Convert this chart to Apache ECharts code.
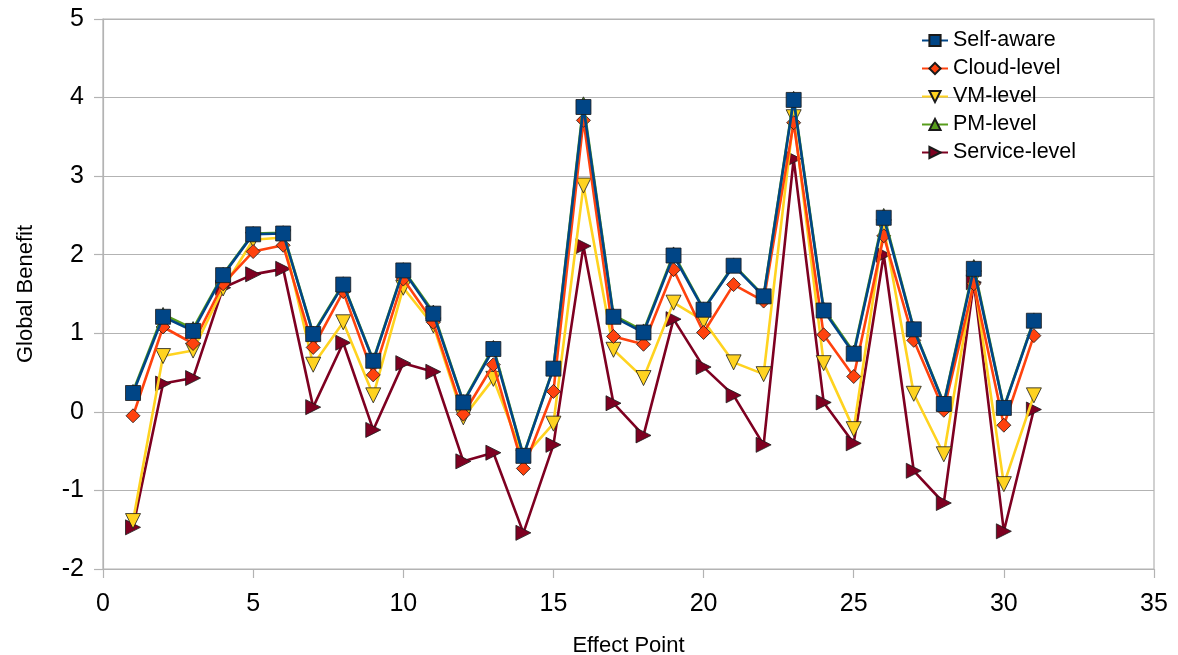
<!DOCTYPE html>
<html>
<head>
<meta charset="utf-8">
<script src="https://cdn.jsdelivr.net/npm/echarts@6/dist/echarts.min.js"></script>
<style>html,body{margin:0;padding:0;background:#fff;}#c{width:1178px;height:655px;}</style>
</head>
<body>
<div id="c"></div>
<script>
const effectPoints = [1,2,3,4,5,6,7,8,9,10,11,12,13,14,15,16,17,18,19,20,21,22,23,24,25,26,27,28,29,30,31];
const selfAware = [0.24,1.21,1.03,1.74,2.26,2.27,0.99,1.62,0.65,1.80,1.25,0.12,0.80,-0.56,0.55,3.88,1.21,1.01,1.99,1.30,1.86,1.47,3.97,1.29,0.74,2.47,1.05,0.10,1.82,0.05,1.16];
const cloudLevel = [-0.05,1.08,0.87,1.63,2.04,2.12,0.82,1.53,0.47,1.69,1.14,-0.03,0.60,-0.72,0.26,3.71,0.96,0.86,1.81,1.01,1.62,1.41,3.68,0.98,0.45,2.24,0.91,0.02,1.63,-0.17,0.97];
const vmLevel = [-1.39,0.71,0.78,1.57,2.19,2.22,0.60,1.14,0.21,1.58,1.10,-0.07,0.42,-0.58,-0.15,2.88,0.79,0.43,1.39,1.16,0.63,0.48,3.75,0.62,-0.22,2.35,0.23,-0.54,1.70,-0.92,0.21];
const pmLevel = [0.26,1.24,1.06,1.75,2.27,2.28,1.00,1.63,0.66,1.81,1.27,0.13,0.82,-0.55,0.56,3.92,1.23,1.03,2.01,1.31,1.87,1.48,3.99,1.31,0.76,2.50,1.06,0.11,1.85,0.06,1.17];
const serviceLevel = [-1.47,0.36,0.43,1.58,1.75,1.82,0.06,0.88,-0.23,0.62,0.51,-0.63,-0.52,-1.54,-0.42,2.11,0.11,-0.30,1.18,0.57,0.21,-0.42,3.22,0.12,-0.40,2.00,-0.75,-1.16,1.65,-1.52,0.03];
const xTicks = [0,5,10,15,20,25,30,35];
const yTicks = [-2,-1,0,1,2,3,4,5];

function pairs(v){ return effectPoints.map((x,i)=>[x,v[i]]); }
const FONT = '"Liberation Sans", Arial, sans-serif';

function mk(name, data, color, symbol, size, rot, z){
  return {
    name: name, type: 'line', data: pairs(data), z: z,
    symbol: symbol, symbolSize: size, symbolRotate: rot,
    showAllSymbol: true,
    lineStyle: {color: color, width: 2.6},
    itemStyle: {color: color, borderColor: '#1a1a1a', borderWidth: 0.8},
    emphasis: {disabled: true},
    animation: false
  };
}

const chart = echarts.init(document.getElementById('c'), null, {renderer: 'canvas'});
chart.setOption({
  backgroundColor: '#fff',
  animation: false,
  grid: {left: 103, right: 24, top: 19, bottom: 86, outerBoundsMode: 'none', containLabel: false, show: true, borderColor: '#b3b3b3', borderWidth: 1.2, backgroundColor: 'transparent'},
  legend: {
    orient: 'vertical', left: 921, top: 29.5, padding: 0, itemGap: 6.0, itemWidth: 26, itemHeight: 14,
    textStyle: {fontFamily: FONT, fontSize: 21.5, color: '#000'},
    data: ['Self-aware','Cloud-level','VM-level','PM-level','Service-level']
  },
  xAxis: {
    type: 'value', min: xTicks[0], max: xTicks[xTicks.length-1], interval: 5,
    name: 'Effect Point', nameLocation: 'middle', nameGap: 66,
    nameTextStyle: {fontFamily: FONT, fontSize: 22, color: '#000'},
    axisLine: {show: true, onZero: false, lineStyle: {color: '#b3b3b3', width: 1.2}},
    axisTick: {show: true, length: 9, lineStyle: {color: '#b3b3b3', width: 1.2}},
    axisLabel: {fontFamily: FONT, fontSize: 25, color: '#000', margin: 23},
    splitLine: {show: false}
  },
  yAxis: {
    type: 'value', min: yTicks[0], max: yTicks[yTicks.length-1], interval: 1,
    name: 'Global Benefit', nameLocation: 'middle', nameGap: 66,
    nameTextStyle: {fontFamily: FONT, fontSize: 22, color: '#000'},
    axisLine: {show: true, onZero: false, lineStyle: {color: '#b3b3b3', width: 1.2}},
    axisTick: {show: true, length: 9, lineStyle: {color: '#b3b3b3', width: 1.2}},
    axisLabel: {fontFamily: FONT, fontSize: 25, color: '#000', margin: 19},
    splitLine: {show: true, lineStyle: {color: '#b3b3b3', width: 1.2}}
  },
  series: [
    mk('Self-aware', selfAware, '#004586', 'rect', 15, 0, 6),
    mk('Cloud-level', cloudLevel, '#ff420e', 'diamond', 14, 0, 4),
    mk('VM-level', vmLevel, '#ffd320', 'triangle', 15, 180, 3),
    mk('PM-level', pmLevel, '#579d1c', 'triangle', 14, 0, 5),
    mk('Service-level', serviceLevel, '#7e0021', 'triangle', 15, -90, 2)
  ]
});
</script>
</body>
</html>
